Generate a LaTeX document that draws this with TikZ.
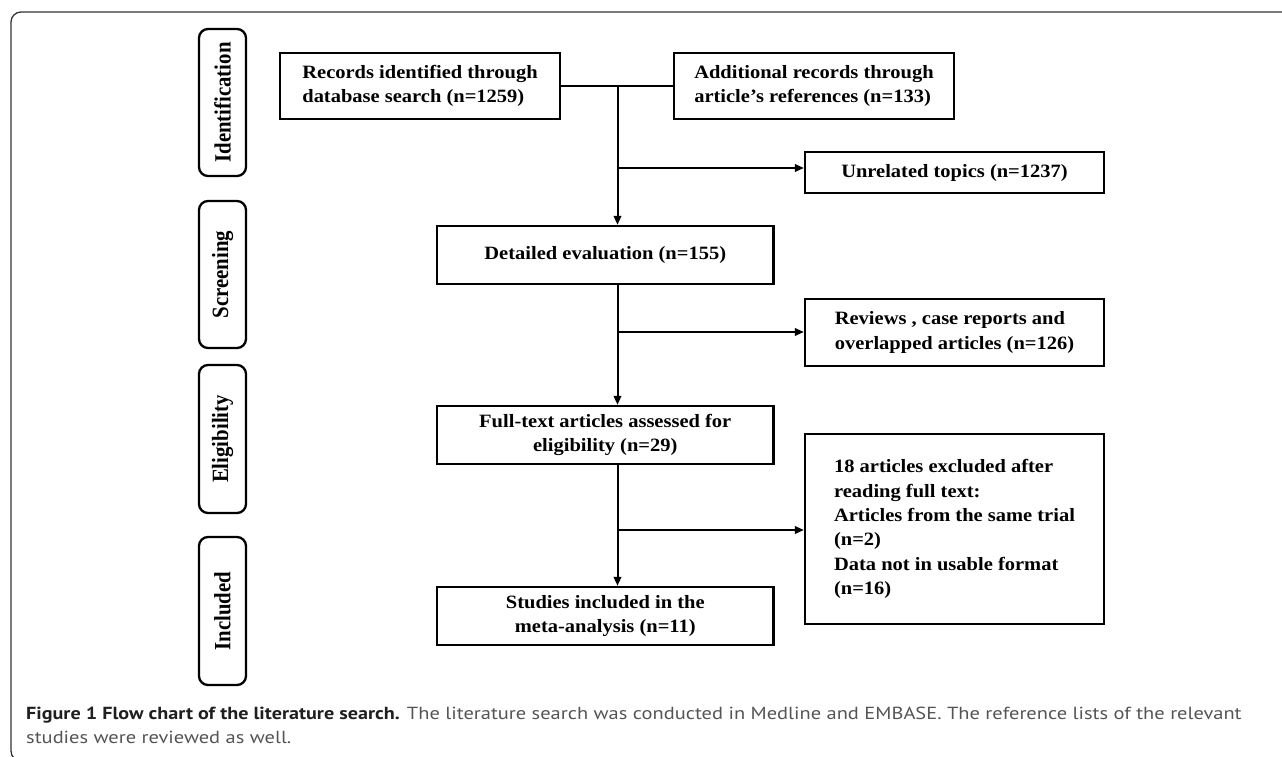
\documentclass[tikz,border=0pt]{standalone}
\usepackage{fontspec}
\setmainfont{Liberation Serif}
\newfontfamily\boxfont{Liberation Serif}[FakeStretch=1.09]
\newfontfamily\labfont{Liberation Serif}
\newfontfamily\capfont{PT Sans}[FakeStretch=1.168]
\newfontfamily\capbold{PT Sans Bold}[FakeStretch=1.15]
\usetikzlibrary{arrows.meta}
\definecolor{capgray}{gray}{0.33}
\definecolor{capdark}{gray}{0.12}
\newcommand{\tallbox}[1]{\scalebox{1}[1.12]{#1}}
\begin{document}
\begin{tikzpicture}[x=1pt,y=-1pt,
  box/.style={draw, line width=2.3pt, inner sep=0pt, font=\boxfont\bfseries\fontsize{18.8}{24.3}\selectfont},
  stage/.style={draw, line width=2.3pt, rounded corners=9pt, inner sep=0pt, rotate=90, font=\labfont\bfseries\fontsize{20.8}{22}\selectfont},
  conn/.style={line width=2pt},
  arr/.style={line width=2pt, -{Triangle[length=9pt,width=7.5pt]}},
  captext/.style={anchor=base west, inner sep=0pt, text=capgray, font=\capfont\fontsize{17.5}{24}\selectfont}]
\useasboundingbox (0,0) rectangle (1282,757);
\begin{scope}
\clip (0,0) rectangle (1282,757);
\draw[line width=1.3pt, black!80, rounded corners=10pt] (1300,12) -- (11,12) -- (11,761) -- (1300,761);
\end{scope}
% stage labels
\node[stage, minimum width=147pt, minimum height=47pt] (sid) at (222.5,102.5) {\tallbox{Identification}};
\node[stage, minimum width=147pt, minimum height=47pt] (sscr) at (222.5,274.5) {\tallbox{Screening}};
\node[stage, minimum width=148pt, minimum height=47pt] (seli) at (222.5,439) {\tallbox{Eligibility}};
\node[stage, minimum width=148pt, minimum height=47pt] (sinc) at (222.5,611) {\tallbox{Included}};
% boxes
\node[box, minimum width=280pt, minimum height=66pt, align=left] (rec) at (420,86) {Records identified through\\database search (n=1259)};
\node[box, minimum width=280pt, minimum height=66pt, align=left] (add) at (814,86) {Additional records through\\article’s references (n=133)};
\node[box, minimum width=299pt, minimum height=41pt, align=center] (unrel) at (954.5,172.5) {Unrelated topics (n=1237)};
\node[box, minimum width=336.5pt, minimum height=58pt, align=center] (det) at (605.25,255) {Detailed evaluation (n=155)};
\node[box, minimum width=299pt, minimum height=67pt, align=left] (rev) at (954.5,332.5) {Reviews , case reports and\\overlapped articles (n=126)};
\node[box, minimum width=336.5pt, minimum height=58pt, align=center] (full) at (605.25,435) {Full-text articles assessed for\\eligibility (n=29)};
\node[box, minimum width=299pt, minimum height=190pt, align=left] (excl) at (954.5,529) {18 articles excluded after\\reading full text:\\Articles from the same trial\\(n=2)\\Data not in usable format\\(n=16)};
\node[box, minimum width=336.5pt, minimum height=58pt, align=center] (stud) at (605.25,616) {Studies included in the\\meta-analysis (n=11)};
% connectors
\coordinate (j1) at (617.5,86);
\coordinate (b1) at (617.5,168);
\coordinate (b2) at (617.5,332);
\coordinate (b3) at (617.5,530);
\draw[conn] (rec.east) -- (add.west);
\draw[arr] (j1) -- (j1 |- det.north);
\draw[arr] (b1) -- (b1 -| unrel.west);
\draw[arr] (det.south -| j1) -- (full.north -| j1);
\draw[arr] (b2) -- (b2 -| rev.west);
\draw[arr] (full.south -| j1) -- (stud.north -| j1);
\draw[arr] (b3) -- (b3 -| excl.west);
% caption
\node[captext] (cap1) at (26,719) {{\capbold\color{capdark}Figure 1 Flow chart of the literature search.} The literature search was conducted in Medline and EMBASE. The reference lists of the relevant};
\node[captext] (cap2) at (26,743) {studies were reviewed as well.};
\end{tikzpicture}
\end{document}
